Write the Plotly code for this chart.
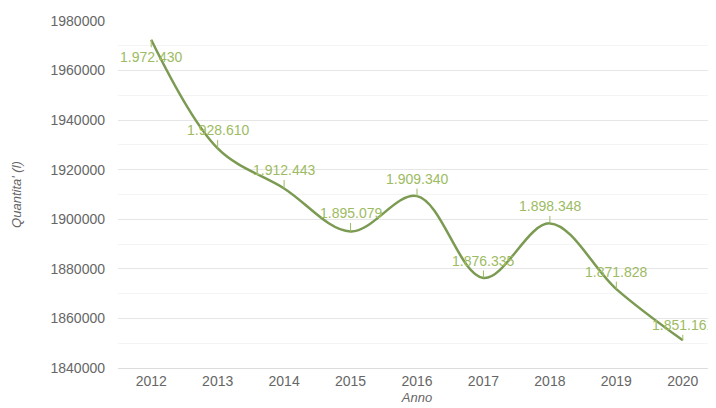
import plotly.graph_objects as go

years = ["2012", "2013", "2014", "2015", "2016", "2017", "2018", "2019", "2020"]
quantities = [1972430, 1928610, 1912443, 1895079, 1909340, 1876335, 1898348, 1871828, 1851161]
label_offsets = [17, -18, -18, -18, -17, -17, -17, -17, -15]

line_color = "#7b9a52"
label_color = "#9dbb62"

def fmt(v):
    return f"{v:,}".replace(",", ".")

fig = go.Figure()
fig.add_trace(go.Scatter(
    x=years, y=quantities, mode="lines",
    line=dict(color=line_color, width=2.5, shape="spline", smoothing=1.0),
    hoverinfo="x+y", showlegend=False,
))

annotations = []
for i, (y, off) in enumerate(zip(quantities, label_offsets)):
    annotations.append(dict(
        x=i, y=y, xref="x", yref="y", text=fmt(y),
        showarrow=True, arrowhead=0, arrowwidth=1, arrowcolor=label_color,
        ax=0, ay=off, standoff=0,
        font=dict(family="Liberation Sans, Arial, sans-serif", size=14, color=label_color),
    ))

fig.update_layout(
    width=716, height=408,
    margin=dict(l=110, r=8, t=13, b=48, autoexpand=False),
    paper_bgcolor="white", plot_bgcolor="white",
    font=dict(family="Liberation Sans, Arial, sans-serif", size=12, color="#666666"),
    annotations=annotations,
    xaxis=dict(
        type="category", range=[-0.5, len(years) - 0.5], automargin=False,
        showgrid=False, zeroline=False,
        showline=True, linecolor="#dddddd", linewidth=1,
        tickfont=dict(size=14, color="#666666"),
        title=dict(text="<i>Anno</i>", font=dict(size=13, color="#666666"), standoff=5),
        ticks="", fixedrange=True,
    ),
    yaxis=dict(
        range=[1840000, 1980000], dtick=20000, tickformat="d", automargin=False,
        showgrid=True, gridcolor="#e6e6e6", gridwidth=1,
        minor=dict(dtick=10000, showgrid=True, gridcolor="#f4f4f4"),
        zeroline=False, showline=False,
        tickfont=dict(size=14, color="#666666"),
        ticklabelstandoff=12,
        title=dict(text="<i>Quantita' (l)</i>", font=dict(size=13, color="#666666"), standoff=25),
    ),
)

fig.write_html("out.html")
